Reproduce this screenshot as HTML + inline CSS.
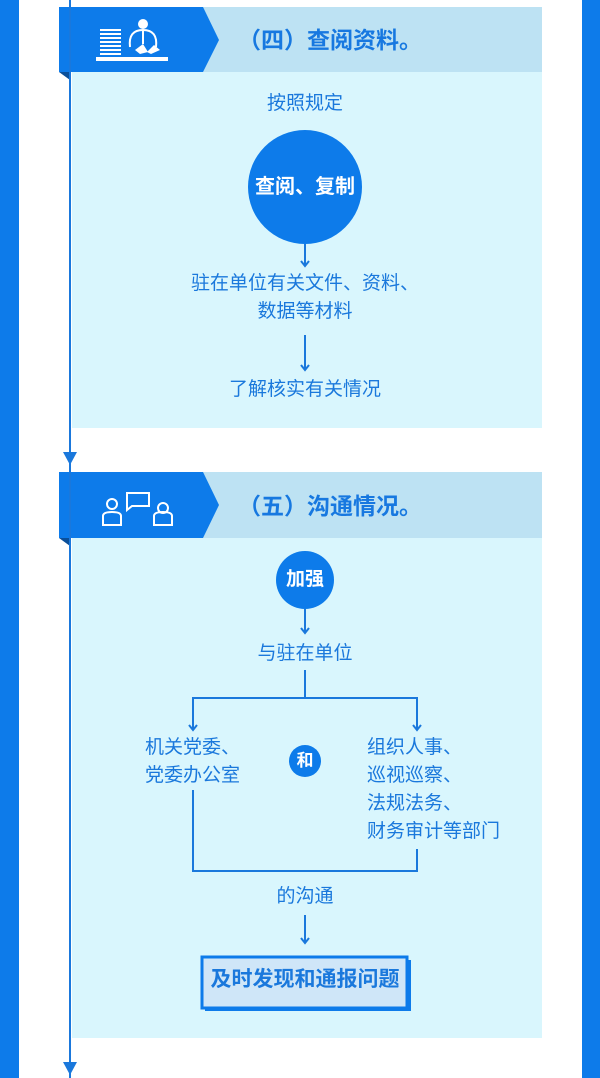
<!DOCTYPE html>
<html><head><meta charset="utf-8"><style>
*{margin:0;padding:0;box-sizing:border-box}
body{width:600px;height:1078px;background:#fff;position:relative;overflow:hidden;font-family:"Liberation Sans","Noto Sans CJK SC",sans-serif;color:#1a78dc}
.a{position:absolute}
.t{position:absolute;left:0;width:610px;text-align:center;font-size:19px;line-height:22px}
.t2{position:absolute;font-size:19px;line-height:28px}
.ttl{position:absolute;left:238px;font-size:23px;font-weight:bold;color:#1778e0;line-height:26px}
</style></head><body>
<div class="a" style="left:0;top:0;width:19px;height:1078px;background:#0d7bea"></div>
<div class="a" style="left:582px;top:0;width:18px;height:1078px;background:#0d7bea"></div>
<div class="a" style="left:72px;top:72px;width:470px;height:356px;background:#d9f6fd"></div>
<div class="a" style="left:72px;top:538px;width:470px;height:500px;background:#d9f6fd"></div>
<svg class="a" style="left:0;top:0" width="600" height="1078">
<rect x="59" y="7" width="483" height="65" fill="#bde2f3"/>
<polygon points="59,7 203,7 219,40 203,72 59,72" fill="#0d7bea"/>
<polygon points="59,72 70,72 70,80" fill="#0a4f9a"/>
<rect x="59" y="472" width="483" height="66" fill="#bde2f3"/>
<polygon points="59,472 203,472 219,505 203,538 59,538" fill="#0d7bea"/>
<polygon points="59,538 70,538 70,546" fill="#0a4f9a"/>
<line x1="70" y1="0" x2="70" y2="1078" stroke="#1a78dc" stroke-width="2"/>
<polygon points="63,452 77,452 70,465" fill="#1a78dc"/>
<polygon points="63,1062 77,1062 70,1075" fill="#1a78dc"/>
<g fill="#fff"><rect x="100" y="29" width="21" height="2"/><rect x="100" y="33" width="21" height="2"/><rect x="100" y="37" width="21" height="2"/><rect x="100" y="41" width="21" height="2"/><rect x="100" y="45" width="21" height="2"/><rect x="100" y="49" width="21" height="2"/><rect x="100" y="53" width="21" height="2"/>
<rect x="96" y="57" width="72" height="4"/><circle cx="143" cy="24" r="5"/>
<polygon points="135,50 143,44 148,52 140,54"/><polygon points="147,52 154,45 160,50 151,54"/></g>
<path d="M130,47 Q128,30 143,30 Q158,30 156,47" fill="none" stroke="#fff" stroke-width="2"/>
<line x1="143" y1="31" x2="143" y2="44" stroke="#fff" stroke-width="2"/>
<g fill="none" stroke="#fff" stroke-width="2">
<circle cx="112" cy="504" r="5"/><path d="M103,525 v-9 q0,-4 9,-4 q9,0 9,4 v9 z"/>
<circle cx="163" cy="508" r="5"/><path d="M154,525 v-9 q0,-4 9,-4 q9,0 9,4 v9 z"/>
<path d="M127,493 h22 v13 h-17 l-5,4 z"/></g>
<circle cx="305" cy="187" r="57" fill="#0d7bea"/>
<g stroke="#1a78dc" stroke-width="2" fill="none">
<line x1="305" y1="244" x2="305" y2="266"/><polyline points="301,261 305,266 309,261"/>
<line x1="305" y1="335" x2="305" y2="370"/><polyline points="301,365 305,370 309,365"/>
<line x1="305" y1="609" x2="305" y2="633"/><polyline points="301,628 305,633 309,628"/>
<polyline points="305,670 305,698 193,698 193,730"/><polyline points="305,698 417,698 417,730"/>
<polyline points="189,725 193,730 197,725"/><polyline points="413,725 417,730 421,725"/>
<polyline points="193,790 193,871 417,871 417,849"/>
<line x1="305" y1="915" x2="305" y2="943"/><polyline points="301,938 305,943 309,938"/>
</g>
<circle cx="305" cy="580" r="29" fill="#0d7bea"/>
<circle cx="305" cy="761" r="16" fill="#0d7bea"/>
<rect x="205" y="960" width="206" height="51" fill="#0d7bea"/>
<rect x="202" y="957" width="205" height="51" fill="#cfe6f8" stroke="#0d7bea" stroke-width="3"/>
</svg>
<div class="ttl" style="top:27px">（四）查阅资料。</div>
<div class="ttl" style="top:493px">（五）沟通情况。</div>
<div class="t" style="top:93px">按照规定</div>
<div class="t" style="top:176px;color:#fff;font-weight:bold;font-size:20px">查阅、复制</div>
<div class="t" style="line-height:28px;top:270px">驻在单位有关文件、资料、<br>数据等材料</div>
<div class="t" style="top:379px">了解核实有关情况</div>
<div class="t" style="top:569px;color:#fff;font-weight:bold;font-size:19px">加强</div>
<div class="t" style="top:643px">与驻在单位</div>
<div class="t2" style="left:145px;top:734px">机关党委、<br>党委办公室</div>
<div class="t" style="top:750px;color:#fff;font-weight:bold;font-size:17px">和</div>
<div class="t2" style="left:367px;top:734px">组织人事、<br>巡视巡察、<br>法规法务、<br>财务审计等部门</div>
<div class="t" style="top:886px">的沟通</div>
<div class="t" style="top:969px;font-weight:bold;font-size:21px;left:0;width:610px">及时发现和通报问题</div>
</body></html>
